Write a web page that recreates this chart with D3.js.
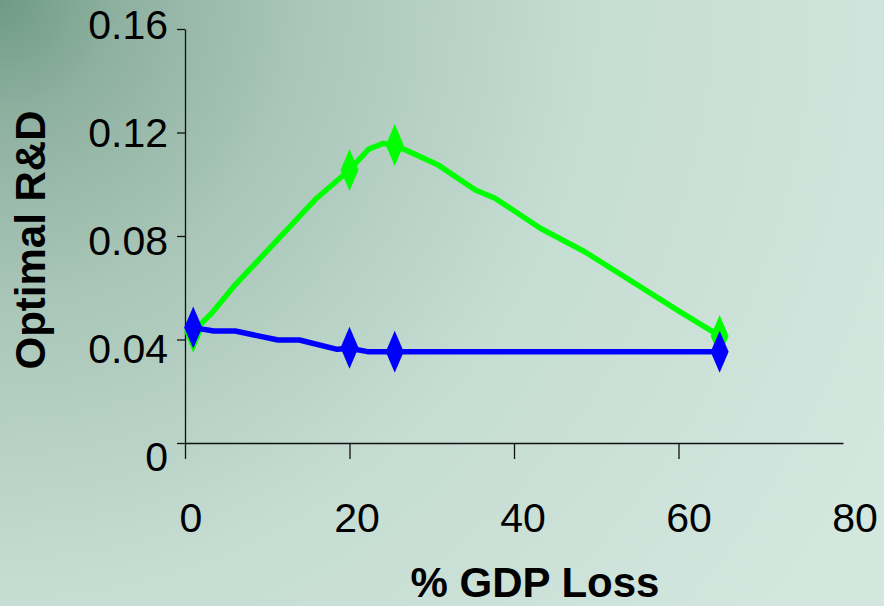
<!DOCTYPE html>
<html>
<head>
<meta charset="utf-8">
<script src="https://cdn.jsdelivr.net/npm/d3@7"></script>
<style>
  html, body { margin: 0; padding: 0; }
  svg { display: block; font-family: "Liberation Sans", Arial, sans-serif; }
</style>
</head>
<body>
<svg id="chart" width="884" height="606"></svg>
<script>
// Optimal R&D vs. % GDP loss, two scenarios
const greenX = [1, 3.4, 5.9, 16, 20, 22.3, 24.1, 25.5, 30.8, 35.3, 37.7, 43.2, 48.6, 60.2, 65];
const greenY = [0.043, 0.0507, 0.0604, 0.0946, 0.1055, 0.1135, 0.1158, 0.1152, 0.1074, 0.0978, 0.0946, 0.0830, 0.0739, 0.0507, 0.0414];
const greenMarkerX = [1, 20, 25.5, 65];
const greenMarkerY = [0.043, 0.1055, 0.1152, 0.0414];

const blueX = [1, 3.5, 6.1, 11.3, 13.9, 18.5, 20, 22.2, 25.5, 65];
const blueY = [0.0446, 0.0433, 0.0433, 0.0398, 0.0398, 0.0362, 0.0366, 0.0353, 0.0353, 0.0353];
const blueMarkerX = [1, 20, 25.5, 65];
const blueMarkerY = [0.0446, 0.0368, 0.0353, 0.0353];

const xTicks = [0, 20, 40, 60];
const xTickLabels = [0, 20, 40, 60, 80];
const yTicks = [0, 0.04, 0.08, 0.12, 0.16];
const yTickLabels = ["0", "0.04", "0.08", "0.12", "0.16"];

const xTitle = "% GDP Loss";
const yTitle = "Optimal R&D";

const svg = d3.select("#chart");

// background gradient, darker toward the top-left corner
const defs = svg.append("defs");
const grad = defs.append("radialGradient")
  .attr("id", "bg").attr("gradientUnits", "userSpaceOnUse")
  .attr("cx", 0).attr("cy", 0).attr("r", 1000);
[[0, "#6e9a85"], [0.12, "#8fb1a1"], [0.3, "#a9c6b8"], [0.6, "#c6ddd3"], [1, "#d3e7df"]]
  .forEach(([o, c]) => grad.append("stop").attr("offset", o).attr("stop-color", c));
svg.append("rect").attr("width", 884).attr("height", 606).attr("fill", "url(#bg)");

const x = d3.scaleLinear().domain([0, 80]).range([185, 843]);
const y = d3.scaleLinear().domain([0, 0.16]).range([443, 29]);
// label placement scales (labels sit slightly offset from their ticks)
const xLab = d3.scaleLinear().domain([0, 80]).range([191, 855]);
const yLab = d3.scaleLinear().domain([0, 0.16]).range([456, 24]);

// axes
const xAxis = svg.append("g").attr("transform", "translate(0,443)")
  .call(d3.axisBottom(x).tickValues(xTicks).tickSizeInner(16).tickSizeOuter(0).tickFormat(""));
const yAxis = svg.append("g").attr("transform", "translate(185,0)")
  .call(d3.axisLeft(y).tickValues(yTicks).tickSizeInner(8).tickSizeOuter(0).tickFormat(""));
[xAxis, yAxis].forEach(a => {
  a.selectAll("path, line").attr("stroke", "#111").attr("stroke-width", 1.3);
});

svg.append("g").selectAll("text").data(xTickLabels).join("text")
  .attr("x", d => xLab(d)).attr("y", 532)
  .attr("text-anchor", "middle").attr("font-size", 41).attr("fill", "#000")
  .text(d => d);

svg.append("g").selectAll("text").data(yTicks).join("text")
  .attr("x", 168).attr("y", d => yLab(d) + 15)
  .attr("text-anchor", "end").attr("font-size", 41).attr("fill", "#000")
  .text((d, i) => yTickLabels[i]);

// titles
svg.append("text").attr("x", 535).attr("y", 597)
  .attr("text-anchor", "middle").attr("font-size", 42).attr("font-weight", "bold")
  .text(xTitle);
svg.append("text").attr("transform", "translate(45,240) rotate(-90)")
  .attr("text-anchor", "middle").attr("font-size", 42).attr("font-weight", "bold")
  .text(yTitle);

// series
const line = d3.line().x(d => x(d[0])).y(d => y(d[1]));
const diamond = (cx, cy) => `M${cx},${cy - 21}L${cx + 9},${cy}L${cx},${cy + 21}L${cx - 9},${cy}Z`;

function drawSeries(xs, ys, mx, my, color) {
  const g = svg.append("g");
  g.append("path").datum(xs.map((v, i) => [v, ys[i]]))
    .attr("d", line).attr("fill", "none").attr("stroke", color)
    .attr("stroke-width", 5.5).attr("stroke-linejoin", "round").attr("stroke-linecap", "round");
  g.selectAll("path.m").data(mx.map((v, i) => [v, my[i]])).join("path")
    .attr("class", "m").attr("d", d => diamond(x(d[0]), y(d[1]))).attr("fill", color);
}

drawSeries(greenX, greenY, greenMarkerX, greenMarkerY, "#00ff00");
drawSeries(blueX, blueY, blueMarkerX, blueMarkerY, "#0000ff");
</script>
</body>
</html>
